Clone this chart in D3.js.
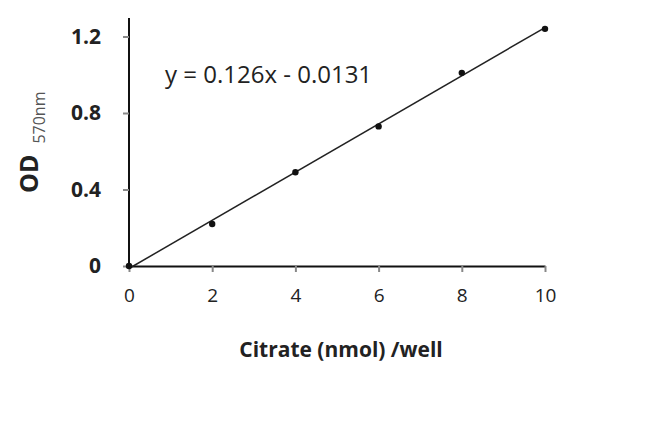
<!DOCTYPE html>
<html>
<head>
<meta charset="utf-8">
<script src="https://cdn.jsdelivr.net/npm/d3@7"></script>
<style>
  body { margin: 0; background: #fff; }
  svg text { font-family: "Open Sans", "Liberation Sans", sans-serif; fill: #222; }
</style>
</head>
<body>
<svg id="chart" width="650" height="439"></svg>
<script>
// standard curve data
var citrate = [0, 2, 4, 6, 8, 10];
var od = [0, 0.22, 0.49, 0.73, 1.01, 1.24];
var xTicks = [0, 2, 4, 6, 8, 10];
var yTicks = [0, 0.4, 0.8, 1.2];
var slope = 0.126, intercept = -0.0131;

var svg = d3.select('#chart');
var padding = {t: 18, l: 129, r: 105, b: 173};
var width = 650 - padding.l - padding.r;
var height = 439 - padding.t - padding.b;

var chartG = svg.append('g')
    .attr('transform', 'translate(' + [padding.l, padding.t] + ')');

var xScale = d3.scaleLinear().domain([0, 10]).range([0, 416]);
var yScale = d3.scaleLinear().domain([0, 1.2]).range([height, height - 229.5]);

// axes
var xAxis = d3.axisBottom(xScale).tickValues(xTicks).tickSize(6).tickSizeOuter(0).tickPadding(17);
var yAxis = d3.axisLeft(yScale).tickValues(yTicks).tickSize(6).tickSizeOuter(0).tickPadding(22)
    .tickFormat(d => d === 0 ? '0' : d3.format('.1f')(d));

var xg = chartG.append('g')
    .attr('transform', 'translate(0,' + height + ')')
    .call(xAxis);
var yg = chartG.append('g').call(yAxis);

xg.select('.domain').attr('stroke', '#111').attr('stroke-width', 2);
yg.select('.domain').attr('d', 'M0,' + height + 'V0').attr('stroke', '#111').attr('stroke-width', 2);
xg.selectAll('.tick line').attr('stroke', '#888').attr('stroke-width', 2);
yg.selectAll('.tick line').attr('stroke', '#888').attr('stroke-width', 2);
xg.selectAll('.tick text').style('font-size', '19px').attr('fill', '#444');
yg.selectAll('.tick text').style('font-size', '21px').style('font-weight', 'bold').attr('fill', '#222');

// trend line
chartG.append('line')
    .attr('x1', xScale(0)).attr('y1', yScale(slope * 0 + intercept))
    .attr('x2', xScale(10)).attr('y2', yScale(slope * 10 + intercept))
    .attr('stroke', '#222').attr('stroke-width', 1.5);

// points
chartG.selectAll('.pt').data(citrate.map((c, i) => ({x: c, y: od[i]})))
    .enter().append('circle')
    .attr('class', 'pt')
    .attr('cx', d => xScale(d.x))
    .attr('cy', d => yScale(d.y))
    .attr('r', 3.2)
    .attr('fill', '#111');

// equation
svg.append('text')
    .attr('x', 165).attr('y', 83)
    .style('font-size', '24px').attr('fill', '#222')
    .text('y = 0.126x - 0.0131');

// axis titles
svg.append('text')
    .attr('x', 341).attr('y', 357)
    .attr('text-anchor', 'middle')
    .style('font-size', '21px').style('font-weight', 'bold')
    .text('Citrate (nmol) /well');

var yt = svg.append('text')
    .attr('transform', 'translate(38,193) rotate(-90)')
    .style('font-size', '25px').style('font-weight', 'bold');
yt.append('tspan').text('OD');
yt.append('tspan').attr('dx', 11).attr('dy', 7).style('font-size', '16px').style('font-weight', 'normal')
    .attr('fill', '#555').text('570nm');
</script>
</body>
</html>
